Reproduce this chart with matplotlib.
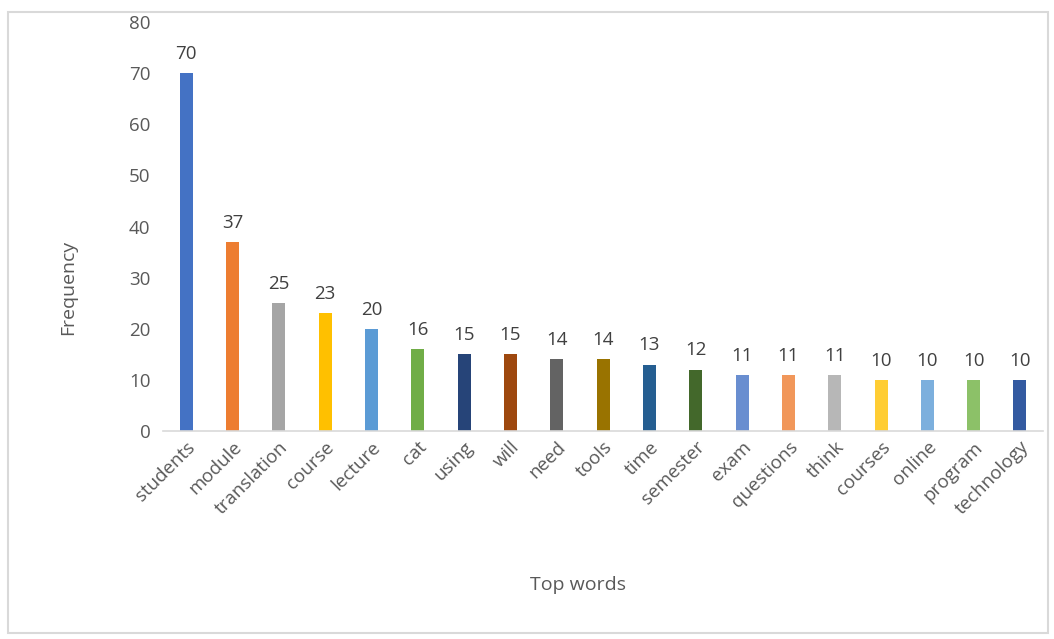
import matplotlib.pyplot as plt
from matplotlib.patches import Rectangle

words = ["students", "module", "translation", "course", "lecture", "cat", "using",
         "will", "need", "tools", "time", "semester", "exam", "questions", "think",
         "courses", "online", "program", "technology"]
counts = [70, 37, 25, 23, 20, 16, 15, 15, 14, 14, 13, 12, 11, 11, 11, 10, 10, 10, 10]
colors = ["#4472C4", "#ED7D31", "#A5A5A5", "#FFC000", "#5B9BD5", "#70AD47", "#264478",
          "#9E480E", "#636363", "#997300", "#255E91", "#43682B", "#698ED0", "#F1975A",
          "#B7B7B7", "#FFCD33", "#7CAFDD", "#8CC168", "#335AA1"]

plt.rcParams["font.family"] = ["Open Sans", "DejaVu Sans"]

fig = plt.figure(figsize=(10.54, 6.39), dpi=100)
fig.patches.append(Rectangle((8 / 1054, 6 / 639), 1040 / 1054, 621 / 639,
                             transform=fig.transFigure, fill=False,
                             edgecolor="#D9D9D9", linewidth=1.5))

ax = fig.add_axes([0.1547, 0.3255, 0.835, 0.64])
x = range(len(words))
bars = ax.bar(x, counts, width=0.28, color=colors)

for b, v in zip(bars, counts):
    ax.text(b.get_x() + b.get_width() / 2, v + 2.0, str(v), ha="center", va="bottom",
            fontsize=13.5, color="#404040")

ax.set_xlim(-0.5, len(words) - 0.5)
ax.set_ylim(0, 80)
ax.set_yticks(range(0, 81, 10))
ax.set_xticks(list(x))
ax.set_xticklabels(words, rotation=45, ha="right", rotation_mode="anchor")
ax.tick_params(axis="both", length=0, labelsize=13.5, labelcolor="#595959")
ax.tick_params(axis="y", pad=9)
ax.tick_params(axis="x", pad=5)

for s in ["top", "right", "left"]:
    ax.spines[s].set_visible(False)
ax.spines["bottom"].set_color("#D9D9D9")
ax.spines["bottom"].set_linewidth(1.2)

fig.text(68 / 1054, 1 - 287 / 639, "Frequency", rotation=90, ha="center", va="center",
         fontsize=14, color="#595959")
fig.text(578 / 1054, 1 - 585 / 639, "Top words", ha="center", va="center",
         fontsize=14, color="#595959")

fig.savefig("out.png", dpi=100)
